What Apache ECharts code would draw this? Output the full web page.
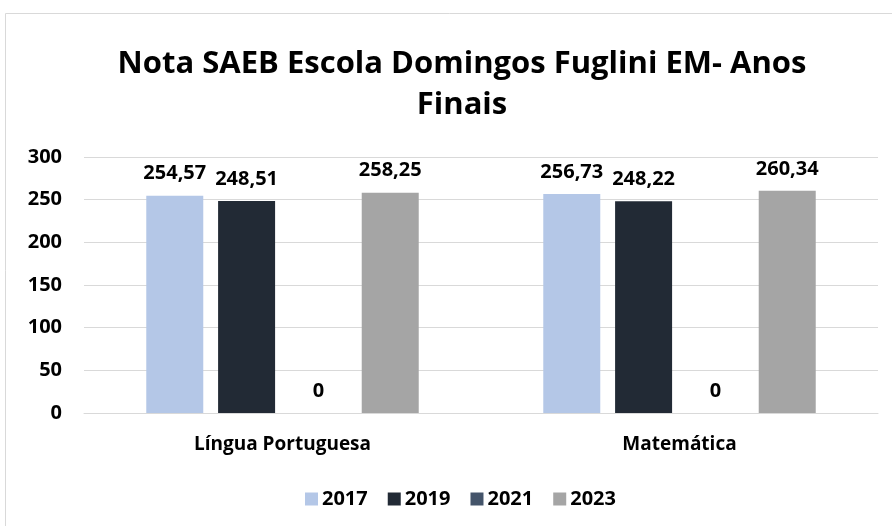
<!DOCTYPE html>
<html><head><meta charset="utf-8">
<script src="https://cdn.jsdelivr.net/npm/echarts@6/dist/echarts.min.js"></script>
<style>html,body{margin:0;padding:0;background:#fff}#c{width:892px;height:526px}</style>
</head><body><div id="c"></div>
<script>
const categories = ['Língua Portuguesa', 'Matemática'];
const seriesNames = ['2017', '2019', '2021', '2023'];
const v2017 = [254.57, 256.73];
const v2019 = [248.51, 248.22];
const v2021 = [0, 0];
const v2023 = [258.25, 260.34];
const yTicks = [0, 50, 100, 150, 200, 250, 300];
const colors = ['#B4C7E7', '#222A35', '#44546A', '#A5A5A5'];
const values = [v2017, v2019, v2021, v2023];
const FONT = 'Open Sans';
const chart = echarts.init(document.getElementById('c'));
chart.setOption({
  animation: false,
  graphic: [{type: 'rect', shape: {x: 5.5, y: 13.5, width: 1000, height: 1000}, style: {fill: 'none', stroke: '#D9D9D9', lineWidth: 1}}],
  title: {
    text: 'Nota SAEB Escola Domingos Fuglini EM- Anos\nFinais',
    left: 457, textAlign: 'center', top: 39,
    textStyle: {fontFamily: FONT, fontWeight: 'bold', fontSize: 31, lineHeight: 41, color: '#000'}
  },
  legend: {
    bottom: 12, left: 300, itemWidth: 13, itemHeight: 13, itemGap: 20,
    icon: 'rect',
    textStyle: {fontFamily: FONT, fontWeight: 'bold', fontSize: 20, color: '#000', padding: [0, 0, 0, -1]},
    data: seriesNames
  },
  grid: {left: 84, right: 14, top: 157, bottom: 113},
  xAxis: {
    type: 'category', data: categories,
    axisLine: {lineStyle: {color: '#D9D9D9'}}, axisTick: {show: false},
    axisLabel: {fontFamily: FONT, fontWeight: 'bold', fontSize: 19, color: '#000', margin: 22}
  },
  yAxis: {
    type: 'value', min: yTicks[0], max: yTicks[yTicks.length - 1], interval: 50,
    axisLine: {show: false}, axisTick: {show: false},
    splitLine: {lineStyle: {color: '#D9D9D9'}},
    axisLabel: {fontFamily: FONT, fontWeight: 'bold', fontSize: 20, color: '#000', margin: 22}
  },
  series: seriesNames.map((n, i) => ({
    name: n, type: 'bar', data: values[i], barWidth: 57, barGap: '26%',
    itemStyle: {color: colors[i]},
    label: {show: true, position: 'top', distance: 12, fontFamily: FONT, fontWeight: 'bold', fontSize: 20, color: '#000',
      formatter: p => String(p.value).replace('.', ',')}
  }))
});
</script></body></html>
